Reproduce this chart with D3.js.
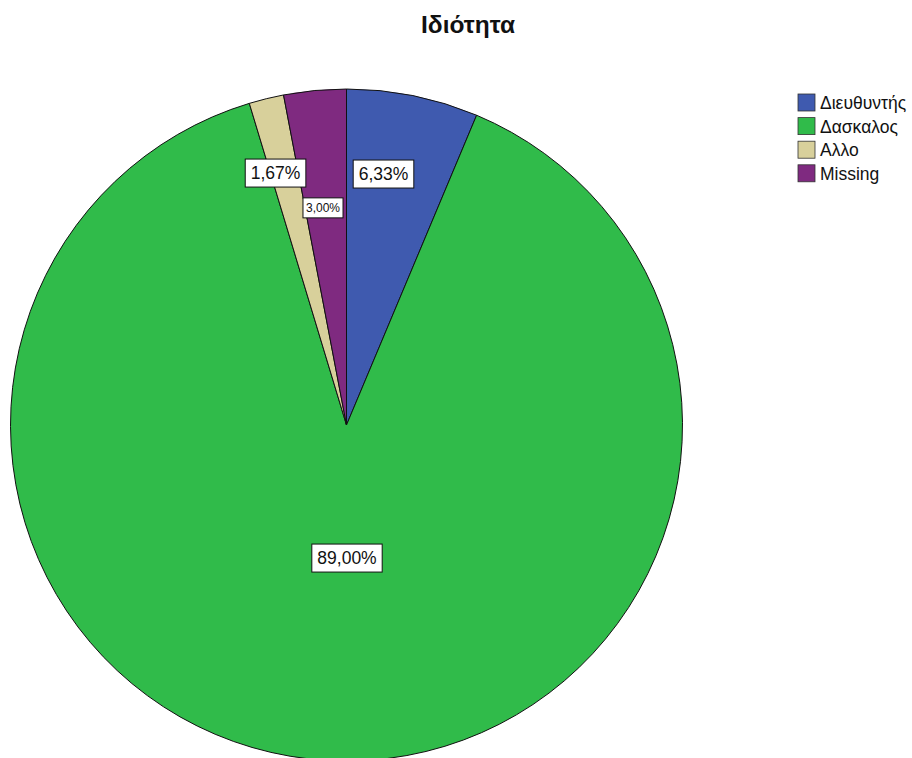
<!DOCTYPE html>
<html>
<head>
<meta charset="utf-8">
<script src="https://cdn.jsdelivr.net/npm/d3@7"></script>
<style>
  html, body { margin: 0; padding: 0; background: #fff; }
  svg { display: block; }
</style>
</head>
<body>
<svg id="chart" width="912" height="758"></svg>
<script>
// Categories and their shares (percent), in drawing order clockwise from 12 o'clock
const categories = ["Διευθυντής", "Δασκαλος", "Αλλο", "Missing"];
const percents = [6.33, 89.00, 1.67, 3.00];
const labels = ["6,33%", "89,00%", "1,67%", "3,00%"];
const colors = ["#3f5aaf", "#30bb4a", "#d8d09b", "#7f2a80"];

const W = 912, H = 758;
const cx = 346.5, cy = 425, R = 336;
const FONT = "Liberation Sans, Arial, sans-serif";

const svg = d3.select("#chart");

svg.append("text")
  .attr("x", 468).attr("y", 33)
  .attr("text-anchor", "middle")
  .attr("font-family", FONT)
  .attr("font-weight", "bold")
  .attr("font-size", 24.5)
  .attr("fill", "#111")
  .text("Ιδιότητα");

const data = categories.map((c, i) => ({ name: c, value: percents[i], label: labels[i], color: colors[i] }));

const pie = d3.pie().value(d => d.value).sort(null);
const arcs = pie(data);
const arc = d3.arc().innerRadius(0).outerRadius(R);

const g = svg.append("g").attr("transform", `translate(${cx},${cy})`);

g.selectAll("path.slice")
  .data(arcs)
  .join("path")
  .attr("class", "slice")
  .attr("d", arc)
  .attr("fill", d => d.data.color)
  .attr("stroke", "#111")
  .attr("stroke-width", 1);

// Label placement inside each slice: fraction along the slice's sweep, radius fraction, font size
const labelPlace = [
  { frac: 0.368, r: 0.755, size: 17.5 },
  { frac: 0.49, r: 0.396, size: 17.5 },
  { frac: 0.18, r: 0.779, size: 17.5 },
  { frac: 0.428, r: 0.65, size: 12 }
];

arcs.forEach((a, i) => {
  const p = labelPlace[i];
  const ang = a.startAngle + (a.endAngle - a.startAngle) * p.frac;
  const x = Math.sin(ang) * R * p.r;
  const y = -Math.cos(ang) * R * p.r;
  const lg = g.append("g").attr("transform", `translate(${x},${y})`);
  const t = lg.append("text")
    .attr("text-anchor", "middle")
    .attr("y", p.size * 0.36)
    .attr("font-family", FONT)
    .attr("font-size", p.size)
    .attr("fill", "#111")
    .text(a.data.label);
  const tw = t.node().getComputedTextLength();
  const big = p.size > 14;
  const bw = tw + (big ? 11 : 6);
  const bh = big ? 28 : 20;
  lg.insert("rect", "text")
    .attr("x", -bw / 2).attr("y", -bh / 2)
    .attr("width", bw).attr("height", bh)
    .attr("fill", "#fff")
    .attr("stroke", "#111")
    .attr("stroke-width", 1);
});

// Legend
const legend = svg.append("g").attr("transform", "translate(798,94)");
const rows = legend.selectAll("g").data(data).join("g")
  .attr("transform", (d, i) => `translate(0,${i * 23.6})`);
rows.append("rect")
  .attr("width", 17).attr("height", 17)
  .attr("fill", d => d.color)
  .attr("stroke", "#333").attr("stroke-width", 0.8);
rows.append("text")
  .attr("x", 22).attr("y", 15)
  .attr("font-family", FONT)
  .attr("font-size", 17.5)
  .attr("fill", "#111")
  .text(d => d.name);
</script>
</body>
</html>
